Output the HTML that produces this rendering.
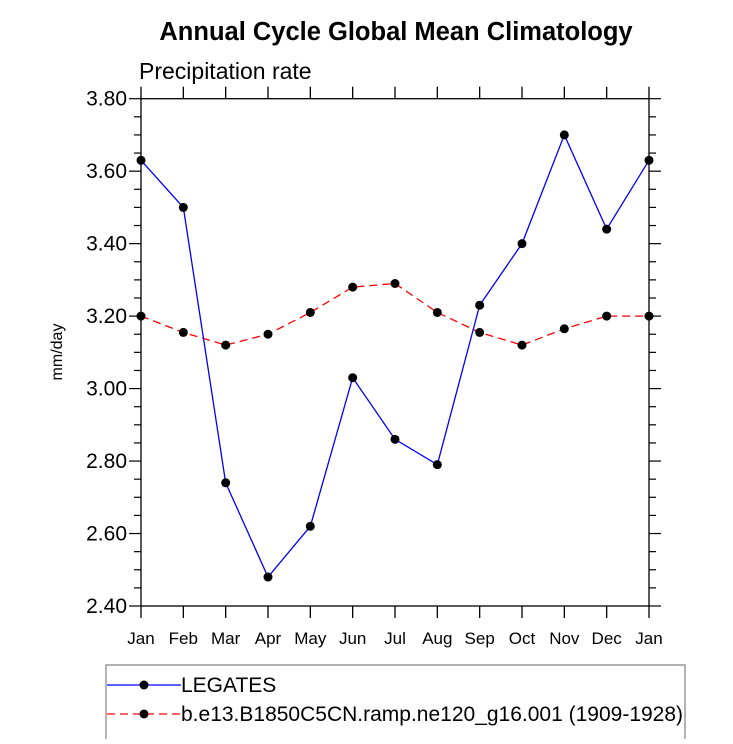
<!DOCTYPE html>
<html><head><meta charset="utf-8"><style>
body{margin:0;background:#fff;}
svg text{font-family:"Liberation Sans",sans-serif;}
</style></head><body>
<svg id="chart" width="733" height="739" xmlns="http://www.w3.org/2000/svg">
<text x="396" y="40" font-size="25.5" font-weight="bold" text-anchor="middle">Annual Cycle Global Mean Climatology</text>
<text x="139" y="79" font-size="23">Precipitation rate</text>
<text transform="translate(62,352) rotate(-90)" font-size="16" text-anchor="middle">mm/day</text>
<g id="axes"></g>
<g id="series"></g>
<rect x="106" y="665" width="579" height="80" fill="none" stroke="#888" stroke-width="1.3"/>
<g>
<line x1="107" y1="685" x2="181" y2="685" stroke="#00f" stroke-width="1.3"/>
<circle cx="144" cy="685" r="4.5" fill="#000"/>
<text x="181" y="692" font-size="21">LEGATES</text>
</g>
<g>
<line x1="107" y1="714" x2="181" y2="714" stroke="#f00" stroke-width="1.3" stroke-dasharray="8,5"/>
<circle cx="144" cy="714" r="4.5" fill="#000"/>
<text x="181" y="721" font-size="21">b.e13.B1850C5CN.ramp.ne120_g16.001 (1909-1928)</text>
</g>
</svg>
<script>
const months=["Jan","Feb","Mar","Apr","May","Jun","Jul","Aug","Sep","Oct","Nov","Dec","Jan"];
const legates=[3.63,3.50,2.74,2.48,2.62,3.03,2.86,2.79,3.23,3.40,3.70,3.44,3.63];
const model=[3.20,3.155,3.12,3.15,3.21,3.28,3.29,3.21,3.155,3.12,3.165,3.20,3.20];
const yTicks=[2.40,2.60,2.80,3.00,3.20,3.40,3.60,3.80];
const X0=141,X1=649,Y0=606,Y1=98.7,YMIN=2.4,YMAX=3.8;
const xs=i=>X0+(X1-X0)*i/12;
const ys=v=>Y0-(v-YMIN)/(YMAX-YMIN)*(Y0-Y1);
const NS="http://www.w3.org/2000/svg";
const ax=document.getElementById('axes'),sr=document.getElementById('series');
function mk(t,a,p){const e=document.createElementNS(NS,t);for(const k in a)e.setAttribute(k,a[k]);p.appendChild(e);return e;}
const frame=mk('rect',{x:X0,y:Y1,width:X1-X0,height:Y0-Y1,fill:'none',stroke:'#000','stroke-width':1.3},ax);


months.forEach((m,i)=>{
  const x=xs(i);
  mk('line',{x1:x,y1:Y0,x2:x,y2:Y0+12,stroke:'#000','stroke-width':1.3},ax);
  mk('line',{x1:x,y1:Y1,x2:x,y2:Y1-12,stroke:'#000','stroke-width':1.3},ax);
  const t=mk('text',{x:x,y:Y0+38,'font-size':17,'text-anchor':'middle'},ax);
  t.textContent=m;
  
  
});
for(let v=YMIN;v<=YMAX+1e-9;v+=0.05){
  const y=ys(v);
  const major=Math.abs(Math.round(v*100)%20)<1e-6;
  const L=major?12:7;
  mk('line',{x1:X0-L,y1:y,x2:X0,y2:y,stroke:'#000','stroke-width':1.2},ax);
  mk('line',{x1:X1,y1:y,x2:X1+L,y2:y,stroke:'#000','stroke-width':1.2},ax);
}
yTicks.forEach(v=>{
  const t=mk('text',{x:X0-14,y:ys(v)+7,'font-size':21,'text-anchor':'end'},ax);
  t.textContent=v.toFixed(2);
  
  
});
function draw(arr,color,dash,name){
  const pts=arr.map((v,i)=>xs(i)+','+ys(v)).join(' ');
  const l=mk('polyline',{points:pts,fill:'none',stroke:color,'stroke-width':1.3},sr);
  if(dash)l.setAttribute('stroke-dasharray',dash);
  
  
  arr.forEach((v,i)=>{
    const c=mk('circle',{cx:xs(i),cy:ys(v),r:4.5,fill:'#000'},sr);
    
    
  });
}
draw(model,'#f00','8,5','model');
draw(legates,'#00f',null,'legates');
</script>
</body></html>
